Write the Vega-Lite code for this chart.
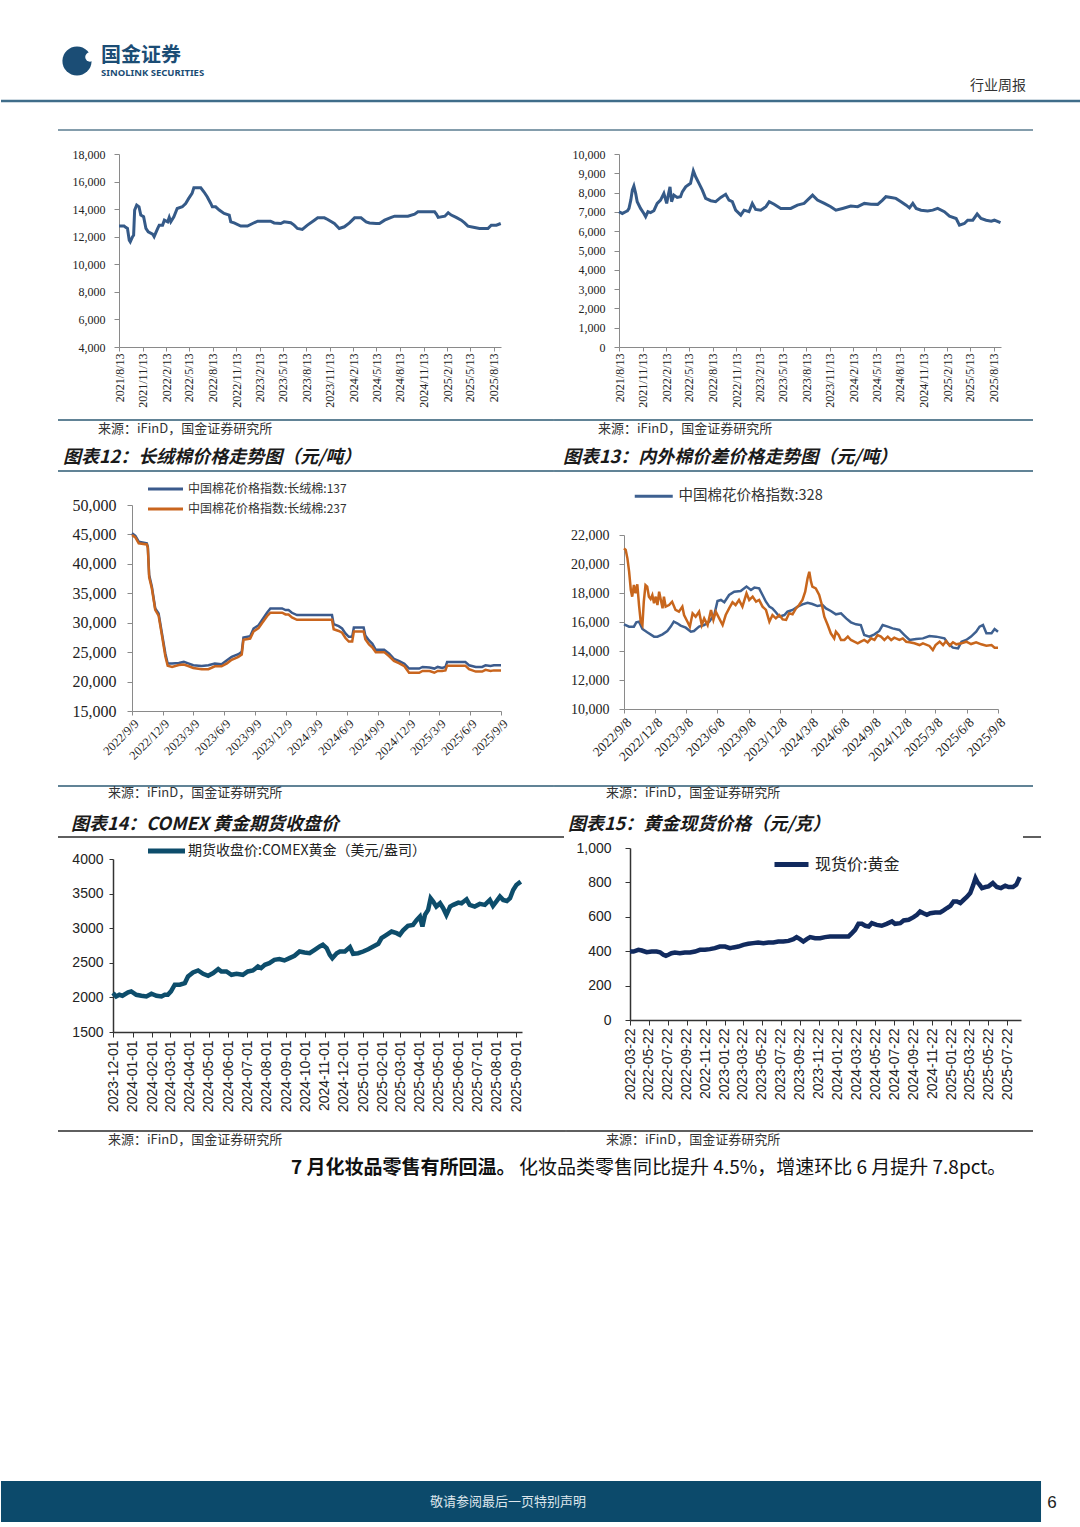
{
"$schema": "https://vega.github.io/schema/vega-lite/v6.json",
"padding": 0,
"background": "white",
"config": {"view": {"stroke": null}, "font": "Noto Sans CJK SC", "axis": {"grid": false}, "concat": {"spacing": 0}},
"spacing": 0,
"resolve": {"scale": {"color": "independent"}, "legend": {"color": "independent"}},
"datasets": {
"one": [{"k": 1}],
"a": [{"d":"2021-08-13","v":12770},{"d":"2021-09-02","v":12770},{"d":"2021-09-08","v":12680},{"d":"2021-09-15","v":12600},{"d":"2021-09-22","v":11750},{"d":"2021-09-26","v":11630},{"d":"2021-10-05","v":12000},{"d":"2021-10-09","v":12100},{"d":"2021-10-13","v":13930},{"d":"2021-10-21","v":14290},{"d":"2021-10-30","v":14170},{"d":"2021-11-06","v":13570},{"d":"2021-11-17","v":13450},{"d":"2021-11-26","v":12600},{"d":"2021-12-05","v":12350},{"d":"2021-12-22","v":12190},{"d":"2021-12-28","v":12000},{"d":"2022-01-11","v":12600},{"d":"2022-01-17","v":12840},{"d":"2022-01-30","v":12840},{"d":"2022-02-06","v":13200},{"d":"2022-02-19","v":13080},{"d":"2022-02-25","v":13400},{"d":"2022-03-03","v":13080},{"d":"2022-03-15","v":13450},{"d":"2022-03-28","v":14050},{"d":"2022-04-17","v":14170},{"d":"2022-04-30","v":14410},{"d":"2022-05-12","v":14780},{"d":"2022-05-25","v":15140},{"d":"2022-06-01","v":15550},{"d":"2022-06-28","v":15550},{"d":"2022-07-10","v":15260},{"d":"2022-07-23","v":14900},{"d":"2022-08-06","v":14410},{"d":"2022-08-12","v":14170},{"d":"2022-08-25","v":14170},{"d":"2022-09-08","v":13930},{"d":"2022-09-27","v":13690},{"d":"2022-10-17","v":13570},{"d":"2022-10-23","v":13080},{"d":"2022-11-05","v":13000},{"d":"2022-12-01","v":12770},{"d":"2022-12-27","v":12770},{"d":"2023-01-16","v":12960},{"d":"2023-02-05","v":13130},{"d":"2023-03-27","v":13130},{"d":"2023-04-10","v":13000},{"d":"2023-05-06","v":12960},{"d":"2023-05-19","v":13080},{"d":"2023-06-14","v":13010},{"d":"2023-06-27","v":12840},{"d":"2023-07-10","v":12600},{"d":"2023-07-29","v":12530},{"d":"2023-08-18","v":12840},{"d":"2023-09-14","v":13200},{"d":"2023-09-27","v":13370},{"d":"2023-10-23","v":13370},{"d":"2023-11-05","v":13250},{"d":"2023-12-01","v":12960},{"d":"2023-12-20","v":12600},{"d":"2024-01-09","v":12720},{"d":"2024-01-29","v":13000},{"d":"2024-02-18","v":13370},{"d":"2024-03-14","v":13370},{"d":"2024-04-03","v":13080},{"d":"2024-04-16","v":13000},{"d":"2024-05-12","v":12960},{"d":"2024-05-25","v":12960},{"d":"2024-06-14","v":13200},{"d":"2024-07-10","v":13400},{"d":"2024-07-23","v":13490},{"d":"2024-09-13","v":13490},{"d":"2024-10-09","v":13640},{"d":"2024-10-22","v":13810},{"d":"2024-12-26","v":13810},{"d":"2025-01-02","v":13640},{"d":"2025-01-09","v":13400},{"d":"2025-02-04","v":13490},{"d":"2025-02-17","v":13740},{"d":"2025-03-01","v":13570},{"d":"2025-03-20","v":13400},{"d":"2025-04-09","v":13200},{"d":"2025-04-22","v":13000},{"d":"2025-05-05","v":12770},{"d":"2025-05-31","v":12670},{"d":"2025-06-19","v":12600},{"d":"2025-07-22","v":12600},{"d":"2025-08-04","v":12840},{"d":"2025-08-24","v":12840},{"d":"2025-09-10","v":12960}],
"b": [{"d":"2021-08-13","v":7010},{"d":"2021-08-26","v":6920},{"d":"2021-09-08","v":7010},{"d":"2021-09-15","v":7060},{"d":"2021-09-21","v":7180},{"d":"2021-09-28","v":7610},{"d":"2021-10-04","v":8130},{"d":"2021-10-10","v":8340},{"d":"2021-10-17","v":7960},{"d":"2021-10-23","v":7530},{"d":"2021-11-05","v":7180},{"d":"2021-11-18","v":6920},{"d":"2021-11-25","v":6750},{"d":"2021-12-04","v":7010},{"d":"2021-12-14","v":6960},{"d":"2021-12-27","v":7060},{"d":"2022-01-09","v":7440},{"d":"2022-01-22","v":7610},{"d":"2022-02-04","v":7960},{"d":"2022-02-15","v":7440},{"d":"2022-02-20","v":7790},{"d":"2022-02-28","v":8300},{"d":"2022-03-06","v":7530},{"d":"2022-03-15","v":7870},{"d":"2022-03-28","v":7750},{"d":"2022-04-10","v":7790},{"d":"2022-04-17","v":8040},{"d":"2022-04-30","v":8300},{"d":"2022-05-19","v":8480},{"d":"2022-05-30","v":9130},{"d":"2022-06-08","v":8820},{"d":"2022-06-21","v":8480},{"d":"2022-07-04","v":8130},{"d":"2022-07-17","v":7700},{"d":"2022-08-06","v":7580},{"d":"2022-08-25","v":7530},{"d":"2022-09-14","v":7750},{"d":"2022-10-03","v":7910},{"d":"2022-10-16","v":7610},{"d":"2022-10-29","v":7530},{"d":"2022-11-11","v":7090},{"d":"2022-12-01","v":6830},{"d":"2022-12-14","v":7090},{"d":"2023-01-02","v":7010},{"d":"2023-01-15","v":7440},{"d":"2023-01-28","v":7130},{"d":"2023-02-17","v":7090},{"d":"2023-03-09","v":7270},{"d":"2023-03-22","v":7530},{"d":"2023-04-10","v":7400},{"d":"2023-05-06","v":7180},{"d":"2023-06-14","v":7180},{"d":"2023-07-10","v":7350},{"d":"2023-08-05","v":7440},{"d":"2023-08-25","v":7700},{"d":"2023-09-07","v":7870},{"d":"2023-09-26","v":7610},{"d":"2023-10-23","v":7440},{"d":"2023-11-17","v":7270},{"d":"2023-12-07","v":7090},{"d":"2024-01-02","v":7180},{"d":"2024-02-03","v":7300},{"d":"2024-03-01","v":7270},{"d":"2024-03-27","v":7440},{"d":"2024-04-22","v":7400},{"d":"2024-05-18","v":7390},{"d":"2024-06-06","v":7610},{"d":"2024-06-19","v":7790},{"d":"2024-07-09","v":7750},{"d":"2024-07-28","v":7700},{"d":"2024-08-17","v":7530},{"d":"2024-09-06","v":7350},{"d":"2024-09-19","v":7210},{"d":"2024-10-02","v":7440},{"d":"2024-10-15","v":7180},{"d":"2024-11-03","v":7090},{"d":"2024-11-29","v":7050},{"d":"2024-12-19","v":7090},{"d":"2025-01-07","v":7180},{"d":"2025-02-02","v":7010},{"d":"2025-02-22","v":6780},{"d":"2025-03-20","v":6660},{"d":"2025-04-02","v":6310},{"d":"2025-04-21","v":6400},{"d":"2025-05-04","v":6570},{"d":"2025-05-24","v":6570},{"d":"2025-06-10","v":6890},{"d":"2025-06-25","v":6660},{"d":"2025-07-15","v":6570},{"d":"2025-08-04","v":6520},{"d":"2025-08-16","v":6570},{"d":"2025-09-09","v":6440}],
"c": [{"d":"2022-09-09","p137":45190,"p237":44900},{"d":"2022-09-19","p137":44740,"p237":44500},{"d":"2022-09-29","p137":43770,"p237":43500},{"d":"2022-10-23","p137":43490,"p237":43300},{"d":"2022-10-26","p137":42920,"p237":42700},{"d":"2022-10-30","p137":38100,"p237":37700},{"d":"2022-11-07","p137":36110,"p237":35800},{"d":"2022-11-17","p137":32420,"p237":32200},{"d":"2022-11-27","p137":31570,"p237":31200},{"d":"2022-12-07","p137":28170,"p237":27800},{"d":"2022-12-17","p137":24760,"p237":24300},{"d":"2022-12-24","p137":23060,"p237":22700},{"d":"2023-01-06","p137":23060,"p237":22500},{"d":"2023-01-26","p137":23170,"p237":22800},{"d":"2023-02-10","p137":23340,"p237":22900},{"d":"2023-02-25","p137":23060,"p237":22600},{"d":"2023-03-10","p137":22770,"p237":22300},{"d":"2023-04-04","p137":22660,"p237":22100},{"d":"2023-04-24","p137":22770,"p237":22100},{"d":"2023-05-13","p137":23060,"p237":22600},{"d":"2023-06-02","p137":22950,"p237":22600},{"d":"2023-06-18","p137":23630,"p237":23100},{"d":"2023-07-02","p137":24190,"p237":23700},{"d":"2023-07-22","p137":24650,"p237":24200},{"d":"2023-08-01","p137":25040,"p237":24600},{"d":"2023-08-06","p137":27480,"p237":27100},{"d":"2023-08-26","p137":27710,"p237":27300},{"d":"2023-09-05","p137":29020,"p237":28500},{"d":"2023-09-20","p137":29580,"p237":29100},{"d":"2023-09-30","p137":30440,"p237":29900},{"d":"2023-10-15","p137":31690,"p237":31100},{"d":"2023-10-25","p137":32420,"p237":31700},{"d":"2023-11-29","p137":32420,"p237":31700},{"d":"2023-12-09","p137":32140,"p237":31400},{"d":"2023-12-18","p137":32140,"p237":31400},{"d":"2023-12-28","p137":31690,"p237":30900},{"d":"2024-01-12","p137":31290,"p237":30500},{"d":"2024-04-25","p137":31290,"p237":30500},{"d":"2024-04-30","p137":29750,"p237":28900},{"d":"2024-05-15","p137":29410,"p237":28600},{"d":"2024-05-25","p137":29020,"p237":28300},{"d":"2024-06-04","p137":28170,"p237":27400},{"d":"2024-06-14","p137":27600,"p237":26800},{"d":"2024-06-24","p137":27600,"p237":26800},{"d":"2024-06-29","p137":29190,"p237":28500},{"d":"2024-07-28","p137":29190,"p237":28500},{"d":"2024-08-02","p137":27830,"p237":27200},{"d":"2024-08-13","p137":26980,"p237":26300},{"d":"2024-08-23","p137":26410,"p237":25800},{"d":"2024-09-02","p137":25390,"p237":25000},{"d":"2024-09-27","p137":25390,"p237":25000},{"d":"2024-10-12","p137":24720,"p237":24300},{"d":"2024-10-26","p137":23870,"p237":23500},{"d":"2024-11-11","p137":23480,"p237":23100},{"d":"2024-11-26","p137":23030,"p237":22600},{"d":"2024-12-10","p137":22210,"p237":21500},{"d":"2025-01-09","p137":22210,"p237":21500},{"d":"2025-01-19","p137":22490,"p237":21800},{"d":"2025-02-09","p137":22380,"p237":21800},{"d":"2025-02-23","p137":22210,"p237":21500},{"d":"2025-03-05","p137":22490,"p237":21800},{"d":"2025-03-18","p137":22320,"p237":21800},{"d":"2025-03-28","p137":22490,"p237":21900},{"d":"2025-04-02","p137":23340,"p237":22700},{"d":"2025-05-26","p137":23340,"p237":22700},{"d":"2025-06-06","p137":22770,"p237":22100},{"d":"2025-06-26","p137":22490,"p237":21700},{"d":"2025-07-15","p137":22490,"p237":21700},{"d":"2025-07-25","p137":22770,"p237":22000},{"d":"2025-08-09","p137":22660,"p237":21800},{"d":"2025-08-19","p137":22770,"p237":21900},{"d":"2025-09-09","p137":22770,"p237":21900}],
"dd": [{"d":"2022-09-08","s":"b","v":15840},{"d":"2022-09-23","s":"b","v":15680},{"d":"2022-10-07","s":"b","v":15680},{"d":"2022-10-14","s":"b","v":15980},{"d":"2022-10-22","s":"b","v":16020},{"d":"2022-11-01","s":"b","v":15520},{"d":"2022-11-15","s":"b","v":15290},{"d":"2022-12-05","s":"b","v":14990},{"d":"2022-12-15","s":"b","v":14990},{"d":"2022-12-30","s":"b","v":15150},{"d":"2023-01-13","s":"b","v":15380},{"d":"2023-01-23","s":"b","v":15680},{"d":"2023-02-01","s":"b","v":16020},{"d":"2023-02-11","s":"b","v":15910},{"d":"2023-02-21","s":"b","v":15750},{"d":"2023-03-08","s":"b","v":15610},{"d":"2023-03-23","s":"b","v":15330},{"d":"2023-04-01","s":"b","v":15380},{"d":"2023-04-16","s":"b","v":15680},{"d":"2023-05-01","s":"b","v":15790},{"d":"2023-05-16","s":"b","v":16020},{"d":"2023-05-31","s":"b","v":16530},{"d":"2023-06-09","s":"b","v":17450},{"d":"2023-06-19","s":"b","v":17520},{"d":"2023-06-29","s":"b","v":17360},{"d":"2023-07-13","s":"b","v":17860},{"d":"2023-07-28","s":"b","v":18090},{"d":"2023-08-16","s":"b","v":18140},{"d":"2023-09-02","s":"b","v":18440},{"d":"2023-09-15","s":"b","v":18210},{"d":"2023-09-25","s":"b","v":18370},{"d":"2023-10-09","s":"b","v":18320},{"d":"2023-10-19","s":"b","v":17860},{"d":"2023-10-29","s":"b","v":17400},{"d":"2023-11-08","s":"b","v":17060},{"d":"2023-11-17","s":"b","v":16940},{"d":"2023-11-27","s":"b","v":16670},{"d":"2023-12-07","s":"b","v":16370},{"d":"2023-12-22","s":"b","v":16480},{"d":"2023-12-31","s":"b","v":16710},{"d":"2024-01-15","s":"b","v":16830},{"d":"2024-01-30","s":"b","v":17060},{"d":"2024-02-13","s":"b","v":17220},{"d":"2024-02-28","s":"b","v":17330},{"d":"2024-03-13","s":"b","v":17240},{"d":"2024-03-28","s":"b","v":17100},{"d":"2024-04-12","s":"b","v":17170},{"d":"2024-04-22","s":"b","v":16940},{"d":"2024-05-06","s":"b","v":16760},{"d":"2024-05-21","s":"b","v":16530},{"d":"2024-06-05","s":"b","v":16600},{"d":"2024-06-20","s":"b","v":16250},{"d":"2024-07-04","s":"b","v":15980},{"d":"2024-07-19","s":"b","v":15840},{"d":"2024-08-02","s":"b","v":15790},{"d":"2024-08-12","s":"b","v":15100},{"d":"2024-08-27","s":"b","v":14990},{"d":"2024-09-11","s":"b","v":15150},{"d":"2024-09-25","s":"b","v":15380},{"d":"2024-10-05","s":"b","v":15790},{"d":"2024-10-20","s":"b","v":15680},{"d":"2024-11-03","s":"b","v":15560},{"d":"2024-11-23","s":"b","v":15450},{"d":"2024-12-08","s":"b","v":15100},{"d":"2024-12-23","s":"b","v":14760},{"d":"2025-01-11","s":"b","v":14830},{"d":"2025-01-31","s":"b","v":14870},{"d":"2025-02-19","s":"b","v":15030},{"d":"2025-03-11","s":"b","v":14990},{"d":"2025-04-04","s":"b","v":14870},{"d":"2025-04-14","s":"b","v":14530},{"d":"2025-04-29","s":"b","v":14230},{"d":"2025-05-14","s":"b","v":14180},{"d":"2025-05-24","s":"b","v":14640},{"d":"2025-06-07","s":"b","v":14760},{"d":"2025-06-21","s":"b","v":14990},{"d":"2025-07-06","s":"b","v":15330},{"d":"2025-07-16","s":"b","v":15680},{"d":"2025-07-26","s":"b","v":15790},{"d":"2025-08-05","s":"b","v":15220},{"d":"2025-08-20","s":"b","v":15220},{"d":"2025-08-29","s":"b","v":15520},{"d":"2025-09-08","s":"b","v":15330},
{"d":"2022-09-08","s":"o","v":21080},{"d":"2022-09-13","s":"o","v":20970},{"d":"2022-09-18","s":"o","v":20390},{"d":"2022-09-23","s":"o","v":19470},{"d":"2022-09-28","s":"o","v":18210},{"d":"2022-10-02","s":"o","v":17750},{"d":"2022-10-07","s":"o","v":18550},{"d":"2022-10-12","s":"o","v":17980},{"d":"2022-10-17","s":"o","v":18600},{"d":"2022-10-22","s":"o","v":17170},{"d":"2022-10-27","s":"o","v":16020},{"d":"2022-11-01","s":"o","v":15790},{"d":"2022-11-05","s":"o","v":17400},{"d":"2022-11-10","s":"o","v":18550},{"d":"2022-11-15","s":"o","v":18440},{"d":"2022-11-20","s":"o","v":17750},{"d":"2022-11-25","s":"o","v":17590},{"d":"2022-11-30","s":"o","v":17860},{"d":"2022-12-05","s":"o","v":17290},{"d":"2022-12-10","s":"o","v":17750},{"d":"2022-12-15","s":"o","v":17170},{"d":"2022-12-20","s":"o","v":18090},{"d":"2022-12-25","s":"o","v":17520},{"d":"2022-12-30","s":"o","v":16940},{"d":"2023-01-03","s":"o","v":17750},{"d":"2023-01-08","s":"o","v":17060},{"d":"2023-01-18","s":"o","v":17170},{"d":"2023-01-27","s":"o","v":17400},{"d":"2023-02-06","s":"o","v":16830},{"d":"2023-02-16","s":"o","v":16710},{"d":"2023-02-26","s":"o","v":17060},{"d":"2023-03-03","s":"o","v":16480},{"d":"2023-03-13","s":"o","v":16020},{"d":"2023-03-20","s":"o","v":15680},{"d":"2023-03-28","s":"o","v":16600},{"d":"2023-04-06","s":"o","v":16370},{"d":"2023-04-16","s":"o","v":16710},{"d":"2023-04-24","s":"o","v":15790},{"d":"2023-05-01","s":"o","v":16250},{"d":"2023-05-11","s":"o","v":15790},{"d":"2023-05-21","s":"o","v":16830},{"d":"2023-05-28","s":"o","v":16140},{"d":"2023-06-04","s":"o","v":16710},{"d":"2023-06-14","s":"o","v":16250},{"d":"2023-06-24","s":"o","v":15790},{"d":"2023-07-03","s":"o","v":16480},{"d":"2023-07-13","s":"o","v":16940},{"d":"2023-07-23","s":"o","v":17360},{"d":"2023-08-01","s":"o","v":17170},{"d":"2023-08-11","s":"o","v":17520},{"d":"2023-08-21","s":"o","v":17060},{"d":"2023-09-02","s":"o","v":17980},{"d":"2023-09-10","s":"o","v":17520},{"d":"2023-09-20","s":"o","v":17750},{"d":"2023-09-30","s":"o","v":17400},{"d":"2023-10-09","s":"o","v":17520},{"d":"2023-10-19","s":"o","v":17060},{"d":"2023-10-29","s":"o","v":16830},{"d":"2023-11-08","s":"o","v":16020},{"d":"2023-11-17","s":"o","v":16480},{"d":"2023-11-27","s":"o","v":16250},{"d":"2023-12-07","s":"o","v":16480},{"d":"2023-12-17","s":"o","v":16180},{"d":"2023-12-27","s":"o","v":16140},{"d":"2024-01-05","s":"o","v":16600},{"d":"2024-01-15","s":"o","v":16530},{"d":"2024-01-25","s":"o","v":16940},{"d":"2024-02-03","s":"o","v":17170},{"d":"2024-02-13","s":"o","v":17520},{"d":"2024-02-21","s":"o","v":18090},{"d":"2024-02-28","s":"o","v":19010},{"d":"2024-03-04","s":"o","v":19470},{"d":"2024-03-09","s":"o","v":18780},{"d":"2024-03-13","s":"o","v":18440},{"d":"2024-03-23","s":"o","v":18320},{"d":"2024-04-02","s":"o","v":17860},{"d":"2024-04-10","s":"o","v":17170},{"d":"2024-04-17","s":"o","v":16370},{"d":"2024-04-27","s":"o","v":15790},{"d":"2024-05-06","s":"o","v":15220},{"d":"2024-05-16","s":"o","v":14870},{"d":"2024-05-21","s":"o","v":15330},{"d":"2024-05-29","s":"o","v":15100},{"d":"2024-06-05","s":"o","v":14760},{"d":"2024-06-15","s":"o","v":14760},{"d":"2024-06-25","s":"o","v":14990},{"d":"2024-07-04","s":"o","v":14760},{"d":"2024-07-14","s":"o","v":14640},{"d":"2024-07-24","s":"o","v":14530},{"d":"2024-08-02","s":"o","v":14640},{"d":"2024-08-12","s":"o","v":14760},{"d":"2024-08-22","s":"o","v":14600},{"d":"2024-09-01","s":"o","v":14870},{"d":"2024-09-11","s":"o","v":14760},{"d":"2024-09-20","s":"o","v":15100},{"d":"2024-09-30","s":"o","v":14990},{"d":"2024-10-10","s":"o","v":14760},{"d":"2024-10-20","s":"o","v":14990},{"d":"2024-10-30","s":"o","v":14760},{"d":"2024-11-08","s":"o","v":14920},{"d":"2024-11-23","s":"o","v":14760},{"d":"2024-12-03","s":"o","v":14870},{"d":"2024-12-13","s":"o","v":14640},{"d":"2024-12-23","s":"o","v":14600},{"d":"2025-01-06","s":"o","v":14530},{"d":"2025-01-21","s":"o","v":14410},{"d":"2025-01-31","s":"o","v":14530},{"d":"2025-02-19","s":"o","v":14350},{"d":"2025-03-01","s":"o","v":14070},{"d":"2025-03-09","s":"o","v":14410},{"d":"2025-03-21","s":"o","v":14640},{"d":"2025-03-31","s":"o","v":14410},{"d":"2025-04-09","s":"o","v":14690},{"d":"2025-04-19","s":"o","v":14370},{"d":"2025-04-29","s":"o","v":14600},{"d":"2025-05-09","s":"o","v":14460},{"d":"2025-05-24","s":"o","v":14530},{"d":"2025-06-07","s":"o","v":14640},{"d":"2025-06-21","s":"o","v":14480},{"d":"2025-07-06","s":"o","v":14600},{"d":"2025-07-21","s":"o","v":14460},{"d":"2025-08-05","s":"o","v":14370},{"d":"2025-08-20","s":"o","v":14410},{"d":"2025-08-29","s":"o","v":14230},{"d":"2025-09-08","s":"o","v":14230}],
"e": [{"d":"2023-12-01","v":2063},{"d":"2023-12-06","v":2014},{"d":"2023-12-11","v":2038},{"d":"2023-12-16","v":2024},{"d":"2023-12-25","v":2072},{"d":"2023-12-30","v":2087},{"d":"2024-01-07","v":2038},{"d":"2024-01-15","v":2024},{"d":"2024-01-23","v":2014},{"d":"2024-01-31","v":2053},{"d":"2024-02-08","v":2024},{"d":"2024-02-16","v":2014},{"d":"2024-02-21","v":2038},{"d":"2024-02-26","v":2038},{"d":"2024-03-02","v":2087},{"d":"2024-03-08","v":2183},{"d":"2024-03-16","v":2183},{"d":"2024-03-24","v":2207},{"d":"2024-03-29","v":2303},{"d":"2024-04-06","v":2361},{"d":"2024-04-14","v":2390},{"d":"2024-04-22","v":2341},{"d":"2024-04-30","v":2313},{"d":"2024-05-08","v":2351},{"d":"2024-05-16","v":2409},{"d":"2024-05-21","v":2375},{"d":"2024-05-29","v":2375},{"d":"2024-06-06","v":2327},{"d":"2024-06-14","v":2341},{"d":"2024-06-24","v":2327},{"d":"2024-07-02","v":2375},{"d":"2024-07-10","v":2390},{"d":"2024-07-18","v":2447},{"d":"2024-07-23","v":2423},{"d":"2024-07-29","v":2471},{"d":"2024-08-05","v":2495},{"d":"2024-08-13","v":2543},{"d":"2024-08-21","v":2553},{"d":"2024-08-29","v":2534},{"d":"2024-09-06","v":2567},{"d":"2024-09-14","v":2601},{"d":"2024-09-22","v":2663},{"d":"2024-09-30","v":2649},{"d":"2024-10-08","v":2639},{"d":"2024-10-16","v":2688},{"d":"2024-10-24","v":2736},{"d":"2024-10-29","v":2760},{"d":"2024-11-04","v":2712},{"d":"2024-11-09","v":2615},{"d":"2024-11-13","v":2567},{"d":"2024-11-20","v":2639},{"d":"2024-11-25","v":2663},{"d":"2024-12-03","v":2663},{"d":"2024-12-11","v":2726},{"d":"2024-12-16","v":2630},{"d":"2024-12-24","v":2639},{"d":"2025-01-01","v":2663},{"d":"2025-01-09","v":2697},{"d":"2025-01-17","v":2736},{"d":"2025-01-25","v":2774},{"d":"2025-01-30","v":2856},{"d":"2025-02-07","v":2904},{"d":"2025-02-15","v":2952},{"d":"2025-02-23","v":2928},{"d":"2025-02-28","v":2904},{"d":"2025-03-05","v":2966},{"d":"2025-03-13","v":3034},{"d":"2025-03-21","v":3048},{"d":"2025-03-27","v":3120},{"d":"2025-04-01","v":3168},{"d":"2025-04-05","v":3024},{"d":"2025-04-09","v":3192},{"d":"2025-04-14","v":3264},{"d":"2025-04-18","v":3433},{"d":"2025-04-22","v":3385},{"d":"2025-04-27","v":3313},{"d":"2025-05-03","v":3361},{"d":"2025-05-08","v":3289},{"d":"2025-05-13","v":3192},{"d":"2025-05-19","v":3313},{"d":"2025-05-24","v":3337},{"d":"2025-06-01","v":3370},{"d":"2025-06-06","v":3361},{"d":"2025-06-14","v":3418},{"d":"2025-06-19","v":3337},{"d":"2025-06-27","v":3313},{"d":"2025-07-05","v":3351},{"d":"2025-07-13","v":3337},{"d":"2025-07-21","v":3409},{"d":"2025-07-26","v":3322},{"d":"2025-08-01","v":3394},{"d":"2025-08-06","v":3457},{"d":"2025-08-11","v":3409},{"d":"2025-08-17","v":3394},{"d":"2025-08-22","v":3433},{"d":"2025-08-27","v":3553},{"d":"2025-09-01","v":3625},{"d":"2025-09-08","v":3673}],
"f": [{"d":"2022-03-22","v":398},{"d":"2022-04-02","v":398},{"d":"2022-04-18","v":408},{"d":"2022-04-29","v":404},{"d":"2022-05-15","v":394},{"d":"2022-05-31","v":398},{"d":"2022-06-16","v":398},{"d":"2022-06-27","v":394},{"d":"2022-07-08","v":379},{"d":"2022-07-16","v":373},{"d":"2022-07-24","v":379},{"d":"2022-08-03","v":388},{"d":"2022-08-14","v":392},{"d":"2022-08-30","v":388},{"d":"2022-09-15","v":392},{"d":"2022-10-02","v":392},{"d":"2022-10-18","v":398},{"d":"2022-11-03","v":408},{"d":"2022-11-19","v":408},{"d":"2022-12-05","v":412},{"d":"2022-12-21","v":418},{"d":"2023-01-06","v":427},{"d":"2023-01-23","v":427},{"d":"2023-02-08","v":418},{"d":"2023-02-19","v":422},{"d":"2023-03-07","v":427},{"d":"2023-03-23","v":437},{"d":"2023-04-08","v":443},{"d":"2023-04-24","v":447},{"d":"2023-05-10","v":451},{"d":"2023-05-27","v":447},{"d":"2023-06-12","v":451},{"d":"2023-06-28","v":451},{"d":"2023-07-14","v":456},{"d":"2023-07-30","v":456},{"d":"2023-08-16","v":460},{"d":"2023-09-01","v":470},{"d":"2023-09-11","v":482},{"d":"2023-09-22","v":470},{"d":"2023-10-03","v":456},{"d":"2023-10-14","v":470},{"d":"2023-10-25","v":482},{"d":"2023-11-10","v":476},{"d":"2023-11-26","v":476},{"d":"2023-12-12","v":482},{"d":"2023-12-28","v":486},{"d":"2024-01-19","v":486},{"d":"2024-02-10","v":486},{"d":"2024-02-26","v":486},{"d":"2024-03-08","v":505},{"d":"2024-03-18","v":524},{"d":"2024-03-29","v":559},{"d":"2024-04-09","v":559},{"d":"2024-04-20","v":548},{"d":"2024-05-01","v":544},{"d":"2024-05-11","v":563},{"d":"2024-05-27","v":553},{"d":"2024-06-12","v":548},{"d":"2024-06-28","v":559},{"d":"2024-07-15","v":573},{"d":"2024-07-25","v":559},{"d":"2024-08-11","v":563},{"d":"2024-08-22","v":579},{"d":"2024-09-07","v":583},{"d":"2024-09-23","v":598},{"d":"2024-10-04","v":612},{"d":"2024-10-14","v":631},{"d":"2024-10-25","v":621},{"d":"2024-11-05","v":612},{"d":"2024-11-16","v":621},{"d":"2024-12-02","v":625},{"d":"2024-12-18","v":625},{"d":"2024-12-29","v":637},{"d":"2025-01-09","v":651},{"d":"2025-01-20","v":664},{"d":"2025-01-30","v":689},{"d":"2025-02-10","v":689},{"d":"2025-02-21","v":680},{"d":"2025-03-04","v":699},{"d":"2025-03-14","v":715},{"d":"2025-03-25","v":738},{"d":"2025-04-03","v":781},{"d":"2025-04-11","v":825},{"d":"2025-04-18","v":800},{"d":"2025-04-24","v":787},{"d":"2025-05-02","v":767},{"d":"2025-05-13","v":773},{"d":"2025-05-23","v":777},{"d":"2025-06-06","v":796},{"d":"2025-06-19","v":773},{"d":"2025-07-02","v":767},{"d":"2025-07-16","v":781},{"d":"2025-07-27","v":773},{"d":"2025-08-10","v":773},{"d":"2025-08-21","v":787},{"d":"2025-09-01","v":831}]
},
"vconcat": [
{
"width": 968, "height": 115,
"data": {"name": "one"},
"layer": [
{"mark": {"type": "rect", "opacity": 0}, "encoding": {"x": {"datum": -0.1157, "type": "quantitative", "scale": {"domain": [0, 1], "nice": false, "zero": false}, "axis": null}, "x2": {"datum": 1}, "y": {"datum": 0, "type": "quantitative", "scale": {"domain": [0, 1], "nice": false, "zero": false}, "axis": null}, "y2": {"datum": 1}}},
{"mark": {"type": "rect", "color": "#3f6d8a"}, "encoding": {"x": {"datum": -0.1157, "type": "quantitative", "axis": null}, "x2": {"datum": 1}, "y": {"datum": 0.1326, "type": "quantitative", "axis": null}, "y2": {"datum": 0.1109}}},
{"mark": {"type": "point", "filled": true, "shape": "circle", "size": 850, "color": "#1b4d75", "opacity": 1}, "encoding": {"x": {"datum": -0.0372, "type": "quantitative", "axis": null}, "y": {"datum": 0.4696, "type": "quantitative", "axis": null}}},
{"mark": {"type": "point", "filled": true, "shape": "circle", "size": 90, "color": "#ffffff", "opacity": 1}, "encoding": {"x": {"datum": -0.0238, "type": "quantitative", "axis": null}, "y": {"datum": 0.5043, "type": "quantitative", "axis": null}}},
{"mark": {"type": "text", "text": "国金证券", "align": "left", "baseline": "middle", "fontSize": 20, "fontWeight": "bold", "color": "#1b4d75"}, "encoding": {"x": {"datum": -0.0124, "type": "quantitative", "axis": null}, "y": {"datum": 0.5130, "type": "quantitative", "axis": null}}},
{"mark": {"type": "text", "text": "SINOLINK SECURITIES", "align": "left", "baseline": "middle", "font": "Noto Sans", "fontSize": 9.5, "fontWeight": "bold", "color": "#1b4d75"}, "encoding": {"x": {"datum": -0.0124, "type": "quantitative", "axis": null}, "y": {"datum": 0.3652, "type": "quantitative", "axis": null}}},
{"mark": {"type": "text", "text": "行业周报", "align": "right", "baseline": "middle", "fontSize": 14, "color": "#333333"}, "encoding": {"x": {"datum": 0.9432, "type": "quantitative", "axis": null}, "y": {"datum": 0.2522, "type": "quantitative", "axis": null}}}
]
},
{
"spacing": 0,
"resolve": {"scale": {"color": "independent"}, "legend": {"color": "independent"}},
"hconcat": [
{
"width": 388, "height": 193,
"resolve": {"scale": {"x": "independent", "y": "independent"}},
"layer": [
{"data": {"name": "a"}, "mark": {"type": "line", "color": "#355a88", "strokeWidth": 3},
"encoding": {
"x": {"field": "d", "type": "temporal", "scale": {"type": "utc", "range": [6, 388], "domain": [{"year": 2021, "month": 8, "date": 13, "utc": true}, {"year": 2025, "month": 9, "date": 11, "utc": true}]},
"axis": {"values": [{"year":2021,"month":8,"date":13,"utc":true},{"year":2021,"month":11,"date":13,"utc":true},{"year":2022,"month":2,"date":13,"utc":true},{"year":2022,"month":5,"date":13,"utc":true},{"year":2022,"month":8,"date":13,"utc":true},{"year":2022,"month":11,"date":13,"utc":true},{"year":2023,"month":2,"date":13,"utc":true},{"year":2023,"month":5,"date":13,"utc":true},{"year":2023,"month":8,"date":13,"utc":true},{"year":2023,"month":11,"date":13,"utc":true},{"year":2024,"month":2,"date":13,"utc":true},{"year":2024,"month":5,"date":13,"utc":true},{"year":2024,"month":8,"date":13,"utc":true},{"year":2024,"month":11,"date":13,"utc":true},{"year":2025,"month":2,"date":13,"utc":true},{"year":2025,"month":5,"date":13,"utc":true},{"year":2025,"month":8,"date":13,"utc":true}], "labelExpr": "utcFormat(datum.value, '%Y/%-m/%-d')", "labelAngle": 270, "labelFont": "Liberation Serif", "labelFontSize": 12, "labelColor": "#222222", "labelPadding": 2, "tickSize": 4, "tickColor": "#8a8a8a", "domainColor": "#8a8a8a", "title": null, "labelOverlap": false, "labelFlush": false, "labelBound": false}},
"y": {"field": "v", "type": "quantitative", "scale": {"domain": [4000, 18000], "nice": false, "zero": false}, "axis": {"offset": -6, "values": [4000, 6000, 8000, 10000, 12000, 14000, 16000, 18000], "format": ",d", "labelFont": "Liberation Serif", "labelFontSize": 12, "labelColor": "#222222", "labelPadding": 9, "tickSize": 5, "tickColor": "#8a8a8a", "domainColor": "#8a8a8a", "title": null}}
}},
{"data": {"name": "one"}, "mark": {"type": "rect", "opacity": 0}, "encoding": {"x": {"datum": -0.2887, "type": "quantitative", "scale": {"domain": [0, 1], "nice": false, "zero": false}, "axis": null}, "x2": {"datum": 1.1365}, "y": {"datum": 1.2020, "type": "quantitative", "scale": {"domain": [0, 1], "nice": false, "zero": false}, "axis": null}, "y2": {"datum": -0.4922}}},
{"data": {"name": "one"}, "mark": {"type": "rect", "color": "#5b7d90"}, "encoding": {"x": {"datum": -0.1418, "type": "quantitative", "scale": {"domain": [0, 1], "nice": false, "zero": false}, "axis": null}, "x2": {"datum": 1.1365}, "y": {"datum": 1.1282, "type": "quantitative", "scale": {"domain": [0, 1], "nice": false, "zero": false}, "axis": null}, "y2": {"datum": 1.1205}}},
{"data": {"name": "one"}, "mark": {"type": "rect", "color": "#2d5a73"}, "encoding": {"x": {"datum": -0.1418, "type": "quantitative", "scale": {"domain": [0, 1], "nice": false, "zero": false}, "axis": null}, "x2": {"datum": 1.1365}, "y": {"datum": -0.3744, "type": "quantitative", "scale": {"domain": [0, 1], "nice": false, "zero": false}, "axis": null}, "y2": {"datum": -0.3821}}},
{"data": {"name": "one"}, "mark": {"type": "text", "text": "来源：iFinD，国金证券研究所", "align": "left", "baseline": "middle", "fontSize": 13, "color": "#333333"}, "encoding": {"x": {"datum": -0.0387, "type": "quantitative", "scale": {"domain": [0, 1], "nice": false, "zero": false}, "axis": null}, "y": {"datum": -0.4249, "type": "quantitative", "scale": {"domain": [0, 1], "nice": false, "zero": false}, "axis": null}}}
]
},
{
"width": 382, "height": 193,
"resolve": {"scale": {"x": "independent", "y": "independent"}},
"layer": [
{"data": {"name": "b"}, "mark": {"type": "line", "color": "#355a88", "strokeWidth": 3},
"encoding": {
"x": {"field": "d", "type": "temporal", "scale": {"type": "utc", "domain": [{"year": 2021, "month": 8, "date": 13, "utc": true}, {"year": 2025, "month": 9, "date": 11, "utc": true}]},
"axis": {"values": [{"year":2021,"month":8,"date":13,"utc":true},{"year":2021,"month":11,"date":13,"utc":true},{"year":2022,"month":2,"date":13,"utc":true},{"year":2022,"month":5,"date":13,"utc":true},{"year":2022,"month":8,"date":13,"utc":true},{"year":2022,"month":11,"date":13,"utc":true},{"year":2023,"month":2,"date":13,"utc":true},{"year":2023,"month":5,"date":13,"utc":true},{"year":2023,"month":8,"date":13,"utc":true},{"year":2023,"month":11,"date":13,"utc":true},{"year":2024,"month":2,"date":13,"utc":true},{"year":2024,"month":5,"date":13,"utc":true},{"year":2024,"month":8,"date":13,"utc":true},{"year":2024,"month":11,"date":13,"utc":true},{"year":2025,"month":2,"date":13,"utc":true},{"year":2025,"month":5,"date":13,"utc":true},{"year":2025,"month":8,"date":13,"utc":true}], "labelExpr": "utcFormat(datum.value, '%Y/%-m/%-d')", "labelAngle": 270, "labelFont": "Liberation Serif", "labelFontSize": 12, "labelColor": "#222222", "labelPadding": 2, "tickSize": 4, "tickColor": "#8a8a8a", "domainColor": "#8a8a8a", "title": null, "labelOverlap": false, "labelFlush": false, "labelBound": false}},
"y": {"field": "v", "type": "quantitative", "scale": {"domain": [0, 10000], "nice": false, "zero": false}, "axis": {"values": [0, 1000, 2000, 3000, 4000, 5000, 6000, 7000, 8000, 9000, 10000], "format": ",d", "labelFont": "Liberation Serif", "labelFontSize": 12, "labelColor": "#222222", "labelPadding": 9, "tickSize": 5, "tickColor": "#8a8a8a", "domainColor": "#8a8a8a", "title": null}}
}},
{"data": {"name": "one"}, "mark": {"type": "rect", "opacity": 0}, "encoding": {"x": {"datum": -0.1701, "type": "quantitative", "scale": {"domain": [0, 1], "nice": false, "zero": false}, "axis": null}, "x2": {"datum": 1.2094}, "y": {"datum": 1.2020, "type": "quantitative", "scale": {"domain": [0, 1], "nice": false, "zero": false}, "axis": null}, "y2": {"datum": -0.4922}}},
{"data": {"name": "one"}, "mark": {"type": "rect", "color": "#5b7d90"}, "encoding": {"x": {"datum": -0.1701, "type": "quantitative", "scale": {"domain": [0, 1], "nice": false, "zero": false}, "axis": null}, "x2": {"datum": 1.0838}, "y": {"datum": 1.1282, "type": "quantitative", "scale": {"domain": [0, 1], "nice": false, "zero": false}, "axis": null}, "y2": {"datum": 1.1205}}},
{"data": {"name": "one"}, "mark": {"type": "rect", "color": "#2d5a73"}, "encoding": {"x": {"datum": -0.1701, "type": "quantitative", "scale": {"domain": [0, 1], "nice": false, "zero": false}, "axis": null}, "x2": {"datum": 1.0838}, "y": {"datum": -0.3744, "type": "quantitative", "scale": {"domain": [0, 1], "nice": false, "zero": false}, "axis": null}, "y2": {"datum": -0.3821}}},
{"data": {"name": "one"}, "mark": {"type": "text", "text": "来源：iFinD，国金证券研究所", "align": "left", "baseline": "middle", "fontSize": 13, "color": "#333333"}, "encoding": {"x": {"datum": -0.0550, "type": "quantitative", "scale": {"domain": [0, 1], "nice": false, "zero": false}, "axis": null}, "y": {"datum": -0.4249, "type": "quantitative", "scale": {"domain": [0, 1], "nice": false, "zero": false}, "axis": null}}}
]
}
]
},
{
"spacing": 0,
"resolve": {"scale": {"color": "independent"}, "legend": {"color": "independent"}},
"hconcat": [
{
"width": 388, "height": 206,
"resolve": {"scale": {"x": "independent", "y": "independent"}},
"layer": [
{"data": {"name": "c"}, "transform": [{"fold": ["p137", "p237"], "as": ["s", "v"]}], "mark": {"type": "line", "strokeWidth": 2.5},
"encoding": {
"x": {"field": "d", "type": "temporal", "scale": {"type": "utc", "range": [19, 388], "domain": [{"year": 2022, "month": 9, "date": 9, "utc": true}, {"year": 2025, "month": 9, "date": 9, "utc": true}]},
"axis": {"values": [{"year":2022,"month":9,"date":9,"utc":true},{"year":2022,"month":12,"date":9,"utc":true},{"year":2023,"month":3,"date":9,"utc":true},{"year":2023,"month":6,"date":9,"utc":true},{"year":2023,"month":9,"date":9,"utc":true},{"year":2023,"month":12,"date":9,"utc":true},{"year":2024,"month":3,"date":9,"utc":true},{"year":2024,"month":6,"date":9,"utc":true},{"year":2024,"month":9,"date":9,"utc":true},{"year":2024,"month":12,"date":9,"utc":true},{"year":2025,"month":3,"date":9,"utc":true},{"year":2025,"month":6,"date":9,"utc":true},{"year":2025,"month":9,"date":9,"utc":true}], "labelExpr": "utcFormat(datum.value, '%Y/%-m/%-d')", "labelAngle": 315, "labelFont": "Liberation Serif", "labelFontSize": 12.5, "labelColor": "#222222", "labelPadding": 2, "tickSize": 4, "tickColor": "#8a8a8a", "domainColor": "#8a8a8a", "title": null, "labelOverlap": false, "labelFlush": false, "labelBound": false}},
"y": {"field": "v", "type": "quantitative", "scale": {"domain": [15000, 50000], "nice": false, "zero": false}, "axis": {"offset": -19, "values": [15000, 20000, 25000, 30000, 35000, 40000, 45000, 50000], "format": ",d", "labelFont": "Liberation Serif", "labelFontSize": 16, "labelColor": "#222222", "labelPadding": 11, "tickSize": 5, "tickColor": "#8a8a8a", "domainColor": "#8a8a8a", "title": null}},
"color": {"field": "s", "type": "nominal", "scale": {"domain": ["p137", "p237"], "range": ["#3b5a8c", "#c9651e"]}, "legend": {"orient": "none", "legendX": 46, "legendY": -22.5, "direction": "vertical", "title": null, "padding": 0, "symbolType": "M-3.5,0H3.5", "symbolSize": 100, "symbolStrokeWidth": 3, "labelOffset": 16, "rowPadding": 7, "labelFont": "Noto Sans CJK SC", "labelFontSize": 12, "labelColor": "#333333", "labelLimit": 0, "labelExpr": "datum.label == 'p137' ? '中国棉花价格指数:长绒棉:137' : '中国棉花价格指数:长绒棉:237'"}}
}},
{"data": {"name": "one"}, "mark": {"type": "rect", "opacity": 0}, "encoding": {"x": {"datum": -0.2887, "type": "quantitative", "scale": {"domain": [0, 1], "nice": false, "zero": false}, "axis": null}, "x2": {"datum": 1.1365}, "y": {"datum": 1.3058, "type": "quantitative", "scale": {"domain": [0, 1], "nice": false, "zero": false}, "axis": null}, "y2": {"datum": -0.4660}}},
{"data": {"name": "one"}, "mark": {"type": "text", "text": "图表12：长绒棉价格走势图（元/吨）", "align": "left", "baseline": "middle", "fontSize": 18, "fontWeight": "bold", "fontStyle": "italic", "color": "#1a1a1a"}, "encoding": {"x": {"datum": -0.1289, "type": "quantitative", "scale": {"domain": [0, 1], "nice": false, "zero": false}, "axis": null}, "y": {"datum": 1.2282, "type": "quantitative", "scale": {"domain": [0, 1], "nice": false, "zero": false}, "axis": null}}},
{"data": {"name": "one"}, "mark": {"type": "rect", "color": "#2d5a73"}, "encoding": {"x": {"datum": -0.1418, "type": "quantitative", "scale": {"domain": [0, 1], "nice": false, "zero": false}, "axis": null}, "x2": {"datum": 1.1365}, "y": {"datum": 1.1687, "type": "quantitative", "scale": {"domain": [0, 1], "nice": false, "zero": false}, "axis": null}, "y2": {"datum": 1.1614}}},
{"data": {"name": "one"}, "mark": {"type": "rect", "color": "#2d5a73"}, "encoding": {"x": {"datum": -0.1418, "type": "quantitative", "scale": {"domain": [0, 1], "nice": false, "zero": false}, "axis": null}, "x2": {"datum": 1.1365}, "y": {"datum": -0.3604, "type": "quantitative", "scale": {"domain": [0, 1], "nice": false, "zero": false}, "axis": null}, "y2": {"datum": -0.3677}}},
{"data": {"name": "one"}, "mark": {"type": "text", "text": "来源：iFinD，国金证券研究所", "align": "left", "baseline": "middle", "fontSize": 13, "color": "#333333"}, "encoding": {"x": {"datum": -0.0129, "type": "quantitative", "scale": {"domain": [0, 1], "nice": false, "zero": false}, "axis": null}, "y": {"datum": -0.3981, "type": "quantitative", "scale": {"domain": [0, 1], "nice": false, "zero": false}, "axis": null}}}
]
},
{
"width": 374, "height": 204,
"resolve": {"scale": {"x": "independent", "y": "independent"}},
"layer": [
{"data": {"name": "dd"}, "mark": {"type": "line", "strokeWidth": 2.5},
"encoding": {
"x": {"field": "d", "type": "temporal", "scale": {"type": "utc", "domain": [{"year": 2022, "month": 9, "date": 8, "utc": true}, {"year": 2025, "month": 9, "date": 8, "utc": true}]},
"axis": {"values": [{"year":2022,"month":9,"date":8,"utc":true},{"year":2022,"month":12,"date":8,"utc":true},{"year":2023,"month":3,"date":8,"utc":true},{"year":2023,"month":6,"date":8,"utc":true},{"year":2023,"month":9,"date":8,"utc":true},{"year":2023,"month":12,"date":8,"utc":true},{"year":2024,"month":3,"date":8,"utc":true},{"year":2024,"month":6,"date":8,"utc":true},{"year":2024,"month":9,"date":8,"utc":true},{"year":2024,"month":12,"date":8,"utc":true},{"year":2025,"month":3,"date":8,"utc":true},{"year":2025,"month":6,"date":8,"utc":true},{"year":2025,"month":9,"date":8,"utc":true}], "labelExpr": "utcFormat(datum.value, '%Y/%-m/%-d')", "labelAngle": 315, "labelFont": "Liberation Serif", "labelFontSize": 13.5, "labelColor": "#222222", "labelPadding": 2, "tickSize": 4, "tickColor": "#8a8a8a", "domainColor": "#8a8a8a", "title": null, "labelOverlap": false, "labelFlush": false, "labelBound": false}},
"y": {"field": "v", "type": "quantitative", "scale": {"domain": [10000, 22000], "range": [204, 30], "nice": false, "zero": false}, "axis": {"values": [10000, 12000, 14000, 16000, 18000, 20000, 22000], "format": ",d", "labelFont": "Liberation Serif", "labelFontSize": 14, "labelColor": "#222222", "labelPadding": 10, "tickSize": 5, "tickColor": "#8a8a8a", "domainColor": "#8a8a8a", "title": null}},
"color": {"field": "s", "type": "nominal", "scale": {"domain": ["b", "o"], "range": ["#3e6090", "#c8661c"]}, "legend": {"values": ["b"], "orient": "none", "legendX": 22.5, "legendY": -16, "direction": "vertical", "title": null, "padding": 0, "symbolType": "M-3.8,0H3.8", "symbolSize": 100, "symbolStrokeWidth": 3, "labelOffset": 17.5, "labelFont": "Noto Sans CJK SC", "labelFontSize": 14.5, "labelColor": "#333333", "labelLimit": 0, "labelExpr": "'中国棉花价格指数:328'"}}
}},
{"data": {"name": "one"}, "mark": {"type": "rect", "opacity": 0}, "encoding": {"x": {"datum": -0.1871, "type": "quantitative", "scale": {"domain": [0, 1], "nice": false, "zero": false}, "axis": null}, "x2": {"datum": 1.2219}, "y": {"datum": 1.3088, "type": "quantitative", "scale": {"domain": [0, 1], "nice": false, "zero": false}, "axis": null}, "y2": {"datum": -0.4803}}},
{"data": {"name": "one"}, "mark": {"type": "text", "text": "图表13：内外棉价差价格走势图（元/吨）", "align": "left", "baseline": "middle", "fontSize": 18, "fontWeight": "bold", "fontStyle": "italic", "color": "#1a1a1a"}, "encoding": {"x": {"datum": -0.1631, "type": "quantitative", "scale": {"domain": [0, 1], "nice": false, "zero": false}, "axis": null}, "y": {"datum": 1.2304, "type": "quantitative", "scale": {"domain": [0, 1], "nice": false, "zero": false}, "axis": null}}},
{"data": {"name": "one"}, "mark": {"type": "rect", "color": "#2d5a73"}, "encoding": {"x": {"datum": -0.1871, "type": "quantitative", "scale": {"domain": [0, 1], "nice": false, "zero": false}, "axis": null}, "x2": {"datum": 1.0936}, "y": {"datum": 1.1703, "type": "quantitative", "scale": {"domain": [0, 1], "nice": false, "zero": false}, "axis": null}, "y2": {"datum": 1.1630}}},
{"data": {"name": "one"}, "mark": {"type": "rect", "color": "#2d5a73"}, "encoding": {"x": {"datum": -0.1871, "type": "quantitative", "scale": {"domain": [0, 1], "nice": false, "zero": false}, "axis": null}, "x2": {"datum": 1.0936}, "y": {"datum": -0.3738, "type": "quantitative", "scale": {"domain": [0, 1], "nice": false, "zero": false}, "axis": null}, "y2": {"datum": -0.3811}}},
{"data": {"name": "one"}, "mark": {"type": "text", "text": "来源：iFinD，国金证券研究所", "align": "left", "baseline": "middle", "fontSize": 13, "color": "#333333"}, "encoding": {"x": {"datum": -0.0481, "type": "quantitative", "scale": {"domain": [0, 1], "nice": false, "zero": false}, "axis": null}, "y": {"datum": -0.4118, "type": "quantitative", "scale": {"domain": [0, 1], "nice": false, "zero": false}, "axis": null}}}
]
}
]
},
{
"spacing": 0,
"resolve": {"scale": {"color": "independent"}, "legend": {"color": "independent"}},
"hconcat": [
{
"width": 409, "height": 184,
"resolve": {"scale": {"x": "independent", "y": "independent"}},
"layer": [
{"data": {"name": "e"}, "mark": {"type": "line", "strokeWidth": 4.5},
"encoding": {
"x": {"field": "d", "type": "temporal", "scale": {"type": "utc", "domain": [{"year": 2023, "month": 12, "date": 1, "utc": true}, {"year": 2025, "month": 9, "date": 10, "utc": true}]},
"axis": {"values": [{"year":2023,"month":12,"date":1,"utc":true},{"year":2024,"month":1,"date":1,"utc":true},{"year":2024,"month":2,"date":1,"utc":true},{"year":2024,"month":3,"date":1,"utc":true},{"year":2024,"month":4,"date":1,"utc":true},{"year":2024,"month":5,"date":1,"utc":true},{"year":2024,"month":6,"date":1,"utc":true},{"year":2024,"month":7,"date":1,"utc":true},{"year":2024,"month":8,"date":1,"utc":true},{"year":2024,"month":9,"date":1,"utc":true},{"year":2024,"month":10,"date":1,"utc":true},{"year":2024,"month":11,"date":1,"utc":true},{"year":2024,"month":12,"date":1,"utc":true},{"year":2025,"month":1,"date":1,"utc":true},{"year":2025,"month":2,"date":1,"utc":true},{"year":2025,"month":3,"date":1,"utc":true},{"year":2025,"month":4,"date":1,"utc":true},{"year":2025,"month":5,"date":1,"utc":true},{"year":2025,"month":6,"date":1,"utc":true},{"year":2025,"month":7,"date":1,"utc":true},{"year":2025,"month":8,"date":1,"utc":true},{"year":2025,"month":9,"date":1,"utc":true}], "labelExpr": "utcFormat(datum.value, '%Y-%m-%d')", "labelAngle": 270, "labelFont": "Liberation Sans", "labelFontSize": 14, "labelColor": "#222222", "labelPadding": 3, "tickSize": 5, "tickColor": "#333333", "domainColor": "#333333", "domainWidth": 1.5, "title": null, "labelOverlap": false, "labelFlush": false, "labelBound": false}},
"y": {"field": "v", "type": "quantitative", "scale": {"domain": [1500, 4000], "range": [184, 11], "nice": false, "zero": false}, "axis": {"values": [1500, 2000, 2500, 3000, 3500, 4000], "format": "d", "labelFont": "Liberation Sans", "labelFontSize": 14, "labelColor": "#222222", "labelPadding": 6, "tickSize": 4, "tickColor": "#333333", "domainColor": "#333333", "domainWidth": 1.5, "title": null}},
"color": {"datum": "期货收盘价:COMEX黄金（美元/盎司）", "type": "nominal", "scale": {"range": ["#0d4d6b"]}, "legend": {"orient": "none", "legendX": 46, "legendY": -4.5, "title": null, "padding": 0, "symbolType": "M-3.7,0H3.7", "symbolSize": 100, "symbolStrokeWidth": 5, "labelOffset": 14, "labelFont": "Noto Sans CJK SC", "labelFontSize": 14, "labelColor": "#222222", "labelLimit": 0}}
}},
{"data": {"name": "one"}, "mark": {"type": "rect", "opacity": 0}, "encoding": {"x": {"datum": -0.2738, "type": "quantitative", "scale": {"domain": [0, 1], "nice": false, "zero": false}, "axis": null}, "x2": {"datum": 1.1075}, "y": {"datum": 1.2228, "type": "quantitative", "scale": {"domain": [0, 1], "nice": false, "zero": false}, "axis": null}, "y2": {"datum": -0.6521}}},
{"data": {"name": "one"}, "mark": {"type": "text", "text": "图表14：COMEX 黄金期货收盘价", "align": "left", "baseline": "middle", "fontSize": 18, "fontWeight": "bold", "fontStyle": "italic", "color": "#1a1a1a"}, "encoding": {"x": {"datum": -0.1027, "type": "quantitative", "scale": {"domain": [0, 1], "nice": false, "zero": false}, "axis": null}, "y": {"datum": 1.1250, "type": "quantitative", "scale": {"domain": [0, 1], "nice": false, "zero": false}, "axis": null}}},
{"data": {"name": "one"}, "mark": {"type": "rect", "color": "#2a2a2a"}, "encoding": {"x": {"datum": -0.1345, "type": "quantitative", "scale": {"domain": [0, 1], "nice": false, "zero": false}, "axis": null}, "x2": {"datum": 1.1027}, "y": {"datum": 1.0639, "type": "quantitative", "scale": {"domain": [0, 1], "nice": false, "zero": false}, "axis": null}, "y2": {"datum": 1.0557}}},
{"data": {"name": "one"}, "mark": {"type": "rect", "color": "#2a2a2a"}, "encoding": {"x": {"datum": -0.1345, "type": "quantitative", "scale": {"domain": [0, 1], "nice": false, "zero": false}, "axis": null}, "x2": {"datum": 1.1075}, "y": {"datum": -0.5340, "type": "quantitative", "scale": {"domain": [0, 1], "nice": false, "zero": false}, "axis": null}, "y2": {"datum": -0.5421}}},
{"data": {"name": "one"}, "mark": {"type": "text", "text": "来源：iFinD，国金证券研究所", "align": "left", "baseline": "middle", "fontSize": 13, "color": "#333333"}, "encoding": {"x": {"datum": -0.0122, "type": "quantitative", "scale": {"domain": [0, 1], "nice": false, "zero": false}, "axis": null}, "y": {"datum": -0.5870, "type": "quantitative", "scale": {"domain": [0, 1], "nice": false, "zero": false}, "axis": null}}}
]
},
{
"width": 391, "height": 172,
"resolve": {"scale": {"x": "independent", "y": "independent"}},
"layer": [
{"data": {"name": "f"}, "mark": {"type": "line", "strokeWidth": 4.5},
"encoding": {
"x": {"field": "d", "type": "temporal", "scale": {"type": "utc", "domain": [{"year": 2022, "month": 3, "date": 22, "utc": true}, {"year": 2025, "month": 9, "date": 5, "utc": true}]},
"axis": {"values": [{"year":2022,"month":3,"date":22,"utc":true},{"year":2022,"month":5,"date":22,"utc":true},{"year":2022,"month":7,"date":22,"utc":true},{"year":2022,"month":9,"date":22,"utc":true},{"year":2022,"month":11,"date":22,"utc":true},{"year":2023,"month":1,"date":22,"utc":true},{"year":2023,"month":3,"date":22,"utc":true},{"year":2023,"month":5,"date":22,"utc":true},{"year":2023,"month":7,"date":22,"utc":true},{"year":2023,"month":9,"date":22,"utc":true},{"year":2023,"month":11,"date":22,"utc":true},{"year":2024,"month":1,"date":22,"utc":true},{"year":2024,"month":3,"date":22,"utc":true},{"year":2024,"month":5,"date":22,"utc":true},{"year":2024,"month":7,"date":22,"utc":true},{"year":2024,"month":9,"date":22,"utc":true},{"year":2024,"month":11,"date":22,"utc":true},{"year":2025,"month":1,"date":22,"utc":true},{"year":2025,"month":3,"date":22,"utc":true},{"year":2025,"month":5,"date":22,"utc":true},{"year":2025,"month":7,"date":22,"utc":true}], "labelExpr": "utcFormat(datum.value, '%Y-%m-%d')", "labelAngle": 270, "labelFont": "Liberation Sans", "labelFontSize": 14, "labelColor": "#222222", "labelPadding": 3, "tickSize": 5, "tickColor": "#333333", "domainColor": "#333333", "domainWidth": 1.5, "title": null, "labelOverlap": false, "labelFlush": false, "labelBound": false}},
"y": {"field": "v", "type": "quantitative", "scale": {"domain": [0, 1000], "nice": false, "zero": false}, "axis": {"values": [0, 200, 400, 600, 800, 1000], "format": ",d", "labelFont": "Liberation Sans", "labelFontSize": 14, "labelColor": "#222222", "labelPadding": 14, "tickSize": 5, "tickColor": "#333333", "domainColor": "#333333", "domainWidth": 1.5, "title": null}},
"color": {"datum": "现货价:黄金", "type": "nominal", "scale": {"range": ["#112a5e"]}, "legend": {"orient": "none", "legendX": 153.5, "legendY": 8.5, "title": null, "padding": 0, "symbolType": "M-3.4,0H3.4", "symbolSize": 100, "symbolStrokeWidth": 5, "labelOffset": 15.5, "labelFont": "Noto Sans CJK SC", "labelFontSize": 16, "labelColor": "#222222", "labelLimit": 0}}
}},
{"data": {"name": "one"}, "mark": {"type": "rect", "opacity": 0}, "encoding": {"x": {"datum": -0.1636, "type": "quantitative", "scale": {"domain": [0, 1], "nice": false, "zero": false}, "axis": null}, "x2": {"datum": 1.1535}, "y": {"datum": 1.2383, "type": "quantitative", "scale": {"domain": [0, 1], "nice": false, "zero": false}, "axis": null}, "y2": {"datum": -0.7674}}},
{"data": {"name": "one"}, "mark": {"type": "text", "text": "图表15：黄金现货价格（元/克）", "align": "left", "baseline": "middle", "fontSize": 18, "fontWeight": "bold", "fontStyle": "italic", "color": "#1a1a1a"}, "encoding": {"x": {"datum": -0.1586, "type": "quantitative", "scale": {"domain": [0, 1], "nice": false, "zero": false}, "axis": null}, "y": {"datum": 1.1337, "type": "quantitative", "scale": {"domain": [0, 1], "nice": false, "zero": false}, "axis": null}}},
{"data": {"name": "one"}, "mark": {"type": "rect", "color": "#2a2a2a"}, "encoding": {"x": {"datum": 1.0051, "type": "quantitative", "scale": {"domain": [0, 1], "nice": false, "zero": false}, "axis": null}, "x2": {"datum": 1.0512}, "y": {"datum": 1.0683, "type": "quantitative", "scale": {"domain": [0, 1], "nice": false, "zero": false}, "axis": null}, "y2": {"datum": 1.0596}}},
{"data": {"name": "one"}, "mark": {"type": "rect", "color": "#2a2a2a"}, "encoding": {"x": {"datum": -0.1636, "type": "quantitative", "scale": {"domain": [0, 1], "nice": false, "zero": false}, "axis": null}, "x2": {"datum": 1.0307}, "y": {"datum": -0.6410, "type": "quantitative", "scale": {"domain": [0, 1], "nice": false, "zero": false}, "axis": null}, "y2": {"datum": -0.6497}}},
{"data": {"name": "one"}, "mark": {"type": "text", "text": "来源：iFinD，国金证券研究所", "align": "left", "baseline": "middle", "fontSize": 13, "color": "#333333"}, "encoding": {"x": {"datum": -0.0614, "type": "quantitative", "scale": {"domain": [0, 1], "nice": false, "zero": false}, "axis": null}, "y": {"datum": -0.6977, "type": "quantitative", "scale": {"domain": [0, 1], "nice": false, "zero": false}, "axis": null}}}
]
}
]
},
{
"width": 968, "height": 375,
"data": {"name": "one"},
"layer": [
{"mark": {"type": "rect", "opacity": 0}, "encoding": {"x": {"datum": -0.1157, "type": "quantitative", "scale": {"domain": [0, 1], "nice": false, "zero": false}, "axis": null}, "x2": {"datum": 1}, "y": {"datum": 0, "type": "quantitative", "scale": {"domain": [0, 1], "nice": false, "zero": false}, "axis": null}, "y2": {"datum": 1}}},
{"mark": {"type": "text", "text": "7 月化妆品零售有所回温。", "align": "left", "baseline": "middle", "fontSize": 19, "fontWeight": "bold", "color": "#111111"}, "encoding": {"x": {"datum": 0.1839, "type": "quantitative", "axis": null}, "y": {"datum": 0.9573, "type": "quantitative", "axis": null}}},
{"mark": {"type": "text", "text": "化妆品类零售同比提升 4.5%，增速环比 6 月提升 7.8pct。", "align": "left", "baseline": "middle", "fontSize": 19, "color": "#111111"}, "encoding": {"x": {"datum": 0.4195, "type": "quantitative", "axis": null}, "y": {"datum": 0.9573, "type": "quantitative", "axis": null}}},
{"mark": {"type": "rect", "color": "#0c4a6b"}, "encoding": {"x": {"datum": -0.1157, "type": "quantitative", "axis": null}, "x2": {"datum": 0.9587}, "y": {"datum": 0.1227, "type": "quantitative", "axis": null}, "y2": {"datum": 0.0133}}},
{"mark": {"type": "text", "text": "敬请参阅最后一页特别声明", "align": "center", "baseline": "middle", "fontSize": 13, "color": "#dde6ec"}, "encoding": {"x": {"datum": 0.4081, "type": "quantitative", "axis": null}, "y": {"datum": 0.0667, "type": "quantitative", "axis": null}}},
{"mark": {"type": "text", "text": "6", "align": "center", "baseline": "middle", "font": "Liberation Sans", "fontSize": 17, "color": "#222222"}, "encoding": {"x": {"datum": 0.9700, "type": "quantitative", "axis": null}, "y": {"datum": 0.064, "type": "quantitative", "axis": null}}}
]
}
]
}
